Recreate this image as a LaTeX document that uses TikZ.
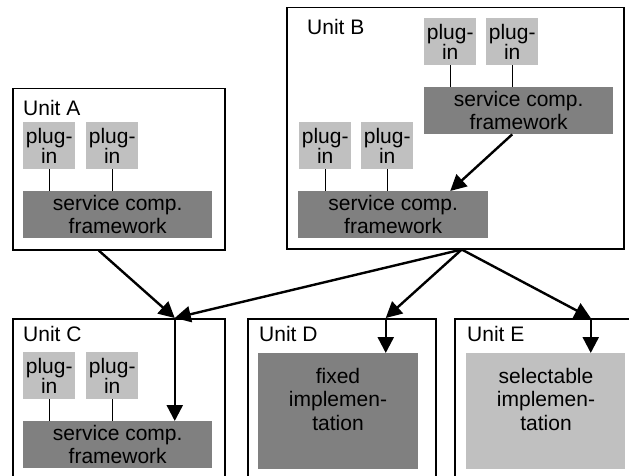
\documentclass[tikz,border=0pt]{standalone}
\usepackage{fontspec}
\setmainfont{Liberation Sans}
\usetikzlibrary{arrows.meta}
\definecolor{plugGray}{HTML}{C0C0C0}
\definecolor{fwGray}{HTML}{808080}
\begin{document}
\begin{tikzpicture}[x=1pt,y=-1pt,
  unit/.style={draw=black,line width=1.5pt,anchor=north west,inner sep=0pt},
  plug/.style={fill=plugGray,anchor=north west,inner sep=0pt,align=center,minimum width=52pt,minimum height=47pt,font=\fontsize{21}{20.5}\selectfont},
  fw/.style={fill=fwGray,anchor=north west,inner sep=0pt,align=center,minimum width=189pt,minimum height=47pt,font=\fontsize{21}{22.5}\selectfont},
  impl/.style={anchor=north west,inner sep=0pt,minimum width=160pt,minimum height=116pt},
  lbl/.style={inner sep=0pt,align=center,font=\fontsize{21}{23.5}\selectfont},
  pin/.style={line width=1.2pt},
  arr/.style={line width=2.4pt,-{Triangle[length=16pt,width=16pt]}}]
\clip (0,0) rectangle (629,476);
\fill[white] (0,0) rectangle (629,476);
% unit A
\node[unit,minimum width=212pt,minimum height=161pt] (unitA) at (12,88) {};
\node[lbl,anchor=base west] (labA) at (23,116) {Unit A};
\node[plug] (pA1) at (23,122) {plug-\\in};
\node[plug] (pA2) at (86,122) {plug-\\in};
\node[fw] (fwA) at (23,191) {service comp.\\framework};
\draw[pin] (pA1.south) -- (pA1.south |- fwA.north);
\draw[pin] (pA2.south) -- (pA2.south |- fwA.north);
% unit B
\node[unit,minimum width=337pt,minimum height=241pt] (unitB) at (286,7) {};
\node[lbl,anchor=base west] (labB) at (307,35) {Unit B};
\node[plug] (pB3) at (424,18) {plug-\\in};
\node[plug] (pB4) at (486,18) {plug-\\in};
\node[fw] (fwBup) at (424,87) {service comp.\\framework};
\node[plug] (pB1) at (299,122) {plug-\\in};
\node[plug] (pB2) at (361,122) {plug-\\in};
\node[fw,minimum width=190pt] (fwBlow) at (298,191) {service comp.\\framework};
\draw[pin] (pB3.south) -- (pB3.south |- fwBup.north);
\draw[pin] (pB4.south) -- (pB4.south |- fwBup.north);
\draw[pin] (pB1.south) -- (pB1.south |- fwBlow.north);
\draw[pin] (pB2.south) -- (pB2.south |- fwBlow.north);
\draw[arr] (pB4.south |- fwBup.south) -- (pB3.south |- fwBlow.north);
% unit C
\node[unit,minimum width=212pt,minimum height=170pt] (unitC) at (12,318) {};
\node[lbl,anchor=base west] (labC) at (23,341) {Unit C};
\node[plug] (pC1) at (23,352) {plug-\\in};
\node[plug] (pC2) at (86,352) {plug-\\in};
\node[fw] (fwC) at (23,421) {service comp.\\framework};
\draw[pin] (pC1.south) -- (pC1.south |- fwC.north);
\draw[pin] (pC2.south) -- (pC2.south |- fwC.north);
% unit D
\node[unit,minimum width=188pt,minimum height=170pt] (unitD) at (247,318) {};
\node[lbl,anchor=base west] (labD) at (259,341) {Unit D};
\node[impl,fill=fwGray] (fixD) at (258,353) {};
\node[lbl,anchor=north] (fixTxt) at (338,368) {fixed\\implemen-\\tation};
% unit E
\node[unit,minimum width=200pt,minimum height=170pt] (unitE) at (454,318) {};
\node[lbl,anchor=base west] (labE) at (467,341) {Unit E};
\node[impl,fill=plugGray,minimum width=159pt] (selE) at (466,353) {};
\node[lbl,anchor=north] (selTxt) at (546,368) {selectable\\implemen-\\tation};
% dependencies
\coordinate (aOut) at ([xshift=-20pt]unitA.south);
\coordinate (bOut) at ([xshift=6.5pt]unitB.south);
\coordinate (cIn) at ([xshift=56pt]unitC.north);
\coordinate (dIn) at ([xshift=44pt]unitD.north);
\coordinate (eIn) at ([xshift=36pt]unitE.north);
\draw[arr] (aOut) -- (cIn);
\draw[arr] (bOut) -- (cIn);
\draw[arr] (cIn) -- (cIn |- fwC.north);
\draw[arr] (bOut) -- (dIn);
\draw[arr] (dIn) -- (dIn |- fixD.north);
\draw[arr] (bOut) -- (eIn);
\draw[arr] (eIn) -- (eIn |- selE.north);
\end{tikzpicture}
\end{document}
